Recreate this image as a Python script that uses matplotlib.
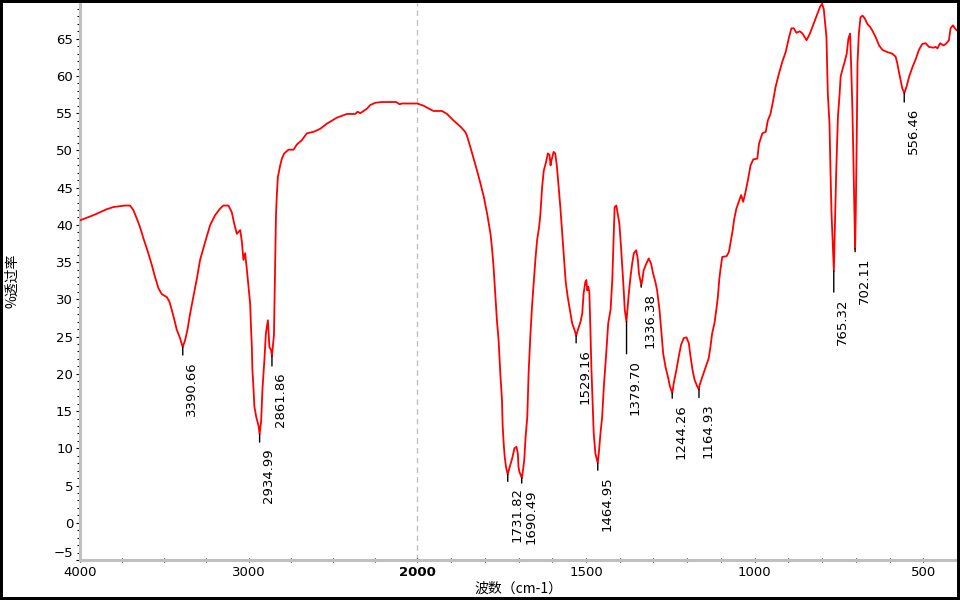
import numpy as np
import matplotlib
matplotlib.use('Agg')
import matplotlib.pyplot as plt
from matplotlib.patches import Rectangle

# IR spectrum: wavenumber (cm-1) and transmittance (%)
wavenumber = [4000, 3990, 3921, 3842, 3802, 3733, 3703, 3684, 3664, 3644, 3624, 3595, 3574, 3555,
              3535, 3515, 3485, 3470, 3456, 3440, 3426, 3407, 3391, 3377, 3363, 3347, 3328, 3307,
              3288, 3258, 3228, 3199, 3169, 3150, 3120, 3100, 3086, 3070, 3050, 3040, 3031, 3021,
              3011, 3001, 2991, 2987, 2981, 2978, 2972, 2966, 2955, 2942, 2935, 2926, 2918, 2906,
              2898, 2886, 2877, 2867, 2862, 2850, 2847, 2843, 2838, 2833, 2827, 2819, 2813, 2803,
              2789, 2764, 2734, 2714, 2684, 2655, 2615, 2576, 2536, 2477, 2417, 2368, 2354, 2338,
              2299, 2279, 2249, 2210, 2125, 2105, 2091, 2000, 1981, 1961, 1952, 1927, 1912, 1892,
              1872, 1858, 1853, 1843, 1833, 1823, 1813, 1803, 1793, 1783, 1778, 1774, 1769, 1764,
              1759, 1754, 1749, 1747, 1744, 1741, 1737, 1732, 1726, 1719, 1712, 1706, 1702, 1700,
              1697, 1690, 1686, 1683, 1679, 1674, 1670, 1665, 1660, 1655, 1650, 1645, 1639, 1635,
              1630, 1625, 1618, 1613, 1608, 1605, 1602, 1596, 1591, 1586, 1581, 1576, 1571, 1566,
              1560, 1554, 1546, 1541, 1534, 1529, 1524, 1516, 1511, 1507, 1502, 1499, 1496, 1493,
              1490, 1487, 1484, 1480, 1477, 1472, 1465, 1462, 1457, 1452, 1447, 1440, 1434, 1427,
              1422, 1419, 1415, 1410, 1406, 1401, 1396, 1391, 1388, 1385, 1380, 1378, 1373, 1368,
              1363, 1358, 1351, 1346, 1343, 1336, 1333, 1329, 1321, 1314, 1307, 1301, 1294, 1289,
              1282, 1276, 1271, 1264, 1257, 1251, 1244, 1240, 1232, 1225, 1218, 1210, 1202, 1195,
              1190, 1184, 1178, 1170, 1165, 1163, 1155, 1145, 1136, 1131, 1126, 1119, 1113, 1109,
              1105, 1101, 1096, 1083, 1076, 1069, 1065, 1060, 1054, 1047, 1040, 1034, 1027, 1020,
              1012, 1004, 992, 987, 977, 967, 961, 953, 945, 938, 928, 918, 908, 898,
              891, 884, 876, 866, 858, 846, 836, 826, 816, 806, 800, 795, 787, 783,
              778, 775, 772, 765, 763, 758, 753, 748, 745, 740, 733, 727, 722, 717,
              714, 710, 707, 702, 700, 697, 695, 691, 686, 680, 673, 666, 658, 651,
              641, 631, 621, 606, 592, 582, 577, 572, 567, 562, 556, 550, 542, 532,
              522, 513, 503, 493, 483, 470, 463, 458, 450, 440, 433, 424, 419, 412,
              406, 400]
transmittance = [40.6, 40.7, 41.3, 42.1, 42.4, 42.6, 42.6, 42.0, 40.9, 39.7, 38.2, 36.2, 34.6, 33.0,
                 31.5, 30.7, 30.3, 29.7, 28.6, 27.2, 25.9, 24.8, 23.6, 24.5, 25.9, 28.1, 30.3, 32.8,
                 35.3, 37.7, 40.0, 41.3, 42.2, 42.6, 42.6, 41.7, 40.2, 38.8, 39.3, 37.7, 35.3, 36.2,
                 34.1, 31.7, 29.4, 26.8, 23.6, 20.7, 18.3, 15.6, 14.2, 13.1, 11.9, 13.6, 18.0, 22.1,
                 25.4, 27.2, 23.6, 23.2, 22.4, 25.2, 29.2, 35.0, 41.3, 44.0, 46.4, 47.3, 48.0, 48.9,
                 49.6, 50.1, 50.1, 50.8, 51.4, 52.3, 52.5, 52.9, 53.6, 54.4, 54.9, 54.9, 55.2, 55.0,
                 55.6, 56.1, 56.4, 56.5, 56.5, 56.2, 56.3, 56.3, 56.0, 55.5, 55.3, 55.3, 54.9, 54.0,
                 53.2, 52.5, 52.0, 50.5, 48.9, 47.3, 45.6, 43.8, 41.5, 38.8, 36.6, 34.4, 30.8, 27.2,
                 24.5, 20.1, 16.5, 13.1, 10.7, 8.9, 7.5, 6.5, 7.5, 8.6, 10.0, 10.2, 9.3, 7.5,
                 6.8, 6.0, 7.3, 8.4, 11.5, 14.2, 20.1, 25.0, 29.0, 32.1, 35.3, 37.9, 39.7, 41.5,
                 45.1, 47.3, 48.5, 49.6, 49.4, 48.0, 48.7, 49.8, 49.6, 47.8, 45.1, 42.4, 39.3, 36.2,
                 32.3, 30.3, 28.1, 26.8, 25.9, 25.1, 25.9, 27.0, 28.1, 30.8, 32.3, 32.6, 31.2, 31.7,
                 31.0, 26.3, 20.9, 15.6, 12.0, 9.3, 8.0, 9.3, 12.0, 14.2, 18.3, 22.7, 26.8, 28.6,
                 32.6, 37.0, 42.4, 42.6, 41.5, 40.2, 37.0, 33.5, 31.2, 28.6, 27.0, 28.1, 30.8, 33.0,
                 34.8, 36.2, 36.6, 35.3, 33.5, 31.9, 32.6, 33.9, 34.8, 35.5, 34.8, 33.5, 32.3, 31.2,
                 28.6, 25.4, 22.7, 20.9, 19.6, 18.3, 17.4, 18.7, 20.5, 22.3, 23.9, 24.8, 24.9, 24.1,
                 22.3, 20.5, 19.2, 18.3, 17.9, 18.5, 19.6, 20.9, 22.1, 23.6, 25.4, 26.8, 28.8, 30.3,
                 32.6, 34.1, 35.7, 35.8, 36.4, 38.2, 39.3, 40.9, 42.2, 43.1, 44.0, 43.1, 44.4, 46.0,
                 48.0, 48.8, 48.9, 50.9, 52.3, 52.5, 54.0, 54.9, 56.7, 58.5, 60.3, 61.9, 63.2, 65.2,
                 66.4, 66.4, 65.8, 66.0, 65.7, 64.8, 65.7, 66.9, 68.1, 69.3, 69.7, 69.0, 65.2, 57.6,
                 53.6, 47.1, 41.5, 33.8, 37.9, 47.3, 54.5, 57.6, 59.9, 60.8, 61.9, 63.0, 65.0, 65.7,
                 61.7, 55.4, 48.2, 36.8, 42.0, 52.7, 61.7, 65.7, 67.9, 68.1, 67.7, 67.0, 66.6, 66.1,
                 65.2, 64.1, 63.5, 63.2, 63.0, 62.6, 61.7, 60.5, 59.4, 58.3, 57.7, 58.5, 59.9, 61.2,
                 62.3, 63.5, 64.3, 64.4, 63.9, 63.8, 63.9, 63.7, 64.4, 64.1, 64.3, 64.8, 66.4, 66.8,
                 66.4, 66.1]

# labelled peaks
peak_wn = [3390.66, 2934.99, 2861.86, 1731.82, 1690.49, 1529.16, 1464.95,
           1379.70, 1336.38, 1244.26, 1164.93, 765.32, 702.11, 556.46]
peak_t = [23.6, 11.9, 22.4, 6.5, 6.0, 25.1, 8.0, 27.0, 31.9, 17.4, 17.9, 33.8, 36.8, 57.7]
mark_len = [8, 8, 10, 7, 5, 7, 7, 32, 2, 5, 8, 21, 3, 9]   # marker length in px

major_x = [4000, 3000, 2000, 1500, 1000, 500]
cjk = ['Noto Sans CJK SC', 'DejaVu Sans']


# x axis: 4000-2000 squeezed to half scale, like the instrument software
def fwd(x):
    x = np.asarray(x, dtype=float)
    return np.where(x > 2000, 2000 + (x - 2000) / 2, x)


def inv(y):
    y = np.asarray(y, dtype=float)
    return np.where(y > 2000, 2000 + (y - 2000) * 2, y)


px = 72 / 100.0  # one pixel in points

fig = plt.figure(figsize=(9.6, 6), dpi=100)
ax = fig.add_axes([80 / 960, 40 / 600, 877 / 960, 557 / 600])
ax.set_xscale('function', functions=(fwd, inv))

ax.axvline(2000, color='#c0c0c0', lw=1, ls=(0, (4, 3)), zorder=1)
ax.plot(wavenumber, transmittance, '-', color='#ff0000', lw=1.3, zorder=3)

ax.set_xlim(4000, 400)
ax.set_ylim(-5, 69.8)

for w, t, L in zip(peak_wn, peak_t, mark_len):
    ax.annotate('', xy=(w, t), xytext=(0, -L * px), textcoords='offset points',
                arrowprops=dict(arrowstyle='-', color='black', lw=1, shrinkA=0, shrinkB=0))
    ax.annotate('%.2f' % w, xy=(w, t), xytext=(9 * px, -(L + 6) * px),
                textcoords='offset points', rotation=90, ha='center', va='top',
                fontsize=9.5, color='black')

ax.set_xticks(major_x, labels=[str(v) for v in major_x])
minor_x = [v for v in list(range(3750, 2000, -250)) + list(range(1900, 400, -100)) if v not in major_x]
ax.set_xticks(minor_x, minor=True)
ax.set_yticks(range(-5, 70, 5))
ax.set_yticks(range(-5, 70), minor=True)

ax.tick_params(axis='y', which='both', direction='out', length=3, width=0.8, color='black',
               labelsize=9.5, pad=2)
ax.tick_params(axis='y', which='minor', length=2.2)
ax.tick_params(axis='x', which='both', direction='inout', length=3, width=0.8, color='black',
               labelsize=9.5, pad=3)

for lbl in ax.get_xticklabels():
    if lbl.get_text() == '2000':
        lbl.set_fontweight('bold')
ax.get_yticklabels()[0].set_verticalalignment('bottom')

for s in ['top', 'right']:
    ax.spines[s].set_visible(False)
for s in ['left', 'bottom']:
    ax.spines[s].set_color('#c0c0c0')
    ax.spines[s].set_linewidth(2.2)

fig.text(518.5 / 960, 1 - 589 / 600, '波数（cm-1）', family=cjk, fontsize=10,
         ha='center', va='center')
fig.text(12 / 960, 1 - 281 / 600, '%透过率', family=cjk, fontsize=10, rotation=90,
         ha='center', va='center')

fig.patches.append(Rectangle((0, 0), 1, 1, transform=fig.transFigure, fill=False,
                             edgecolor='black', linewidth=4.3))

fig.savefig('out.png', dpi=100)
